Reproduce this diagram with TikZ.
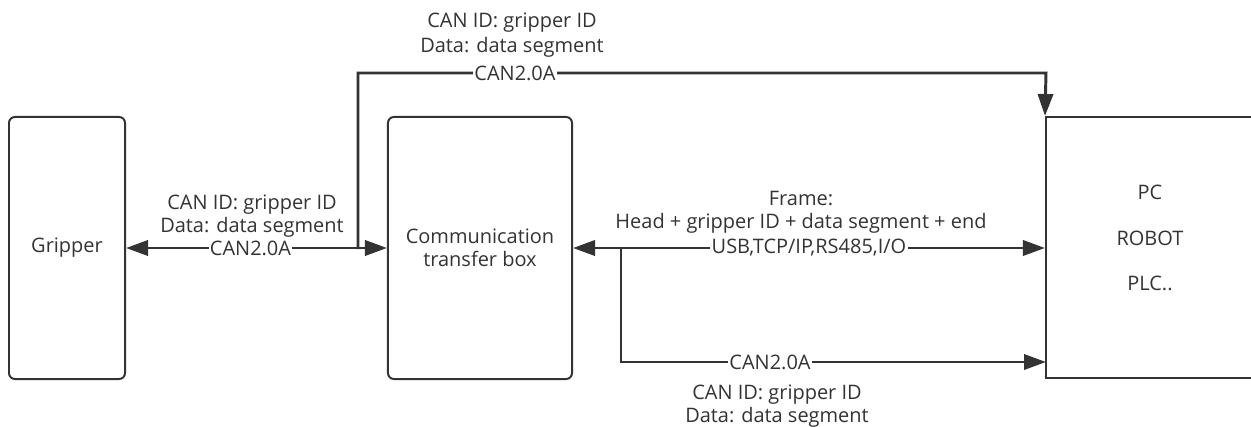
\documentclass[tikz,border=0pt]{standalone}
\usepackage{fontspec}
\setmainfont{Open Sans}
\usetikzlibrary{arrows.meta}

\definecolor{ink}{HTML}{333333}

\tikzset{
  unit/.style={draw=ink, line width=1.4pt, rounded corners=0.15cm, minimum height=6.55cm, align=center, text=ink},
  link/.style={draw=ink, line width=2.1pt, -{Triangle[length=0.55cm,width=0.38cm]}},
  both/.style={{Triangle[length=0.55cm,width=0.38cm]}-{Triangle[length=0.55cm,width=0.38cm]}},
  bus/.style={fill=white, inner sep=1pt, text=ink},
  note/.style={align=center, text=ink}
}

\begin{document}
\begin{tikzpicture}[x=0.025cm, y=-0.025cm, font=\fontsize{14.2}{16.5}\selectfont]
\useasboundingbox (0,0) rectangle (1251,427);

% the three units
\node[unit, minimum width=2.9cm] (gripper) at (67,248) {Gripper};
\node[unit, minimum width=4.6cm] (transfer) at (480,248) {Communication\\transfer box};
\node[unit, rounded corners=0pt, minimum width=5.2cm, minimum height=6.525cm] (host) at (1150,247.5) {};
\node[note] (hostlist) at (1150,238) {PC\\[16pt]ROBOT\\[16pt]PLC..};

\coordinate (tap) at (358,249);
\coordinate (upper) at (1046,73);
\coordinate (split) at (621,249);
\coordinate (lower) at (1046,362);

% gripper <-> transfer box
\draw[link, both] (gripper) -- (transfer)
  node[bus, pos=0.5, xshift=-0.15cm] (cangrip) {CAN2.0A};
\node[note] (candown) at (252,216) {CAN ID: gripper ID\\Data: data segment};

% direct CAN line up and over to the host
\draw[link] (tap) |- (upper) -- (host.north west);
\node[bus] (canup) at (515,73) {CAN2.0A};
\node[note] (canuptext) at (512,35) {CAN ID: gripper ID\\[1pt]Data: data segment};

% transfer box <-> host
\draw[link, both] (transfer) -- (host.west |- transfer)
  node[bus, pos=0.5] (iface) {USB,TCP/IP,RS485,I/O};
\node[note] (frame) at (801,212) {Frame:\\Head + gripper ID + data segment + end};

% CAN branch below
\draw[link] (split) |- (lower);
\node[bus] (canlow) at (770,362) {CAN2.0A};
\node[note] (canlowtext) at (777,406) {CAN ID: gripper ID\\Data: data segment};
\end{tikzpicture}
\end{document}
